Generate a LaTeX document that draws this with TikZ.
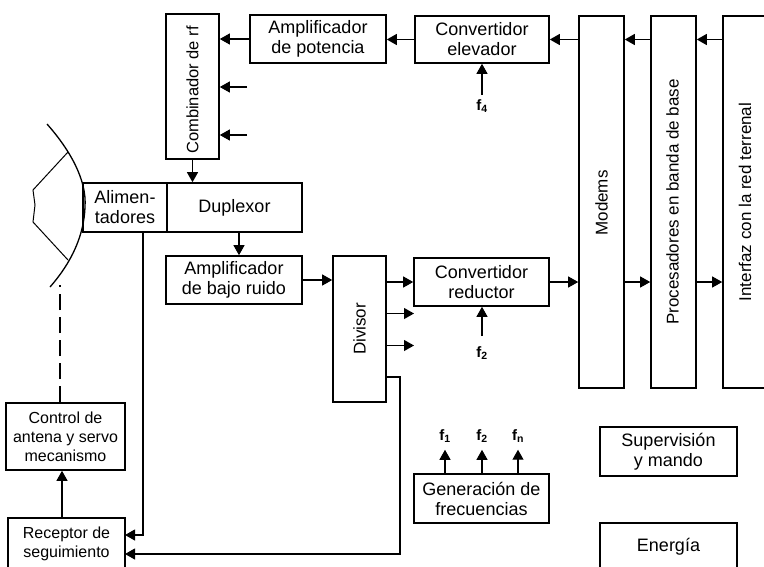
\documentclass[tikz,border=0pt]{standalone}
\usepackage{fontspec}
\setmainfont{Liberation Sans}
\usetikzlibrary{arrows.meta}
\tikzset{
 boxb/.style={draw,line width=1.6pt,inner sep=0pt,align=center,font=\fontsize{18}{20}\selectfont},
 smallb/.style={boxb,font=\fontsize{16}{19}\selectfont},
 txt/.style={inner sep=0pt,align=center,font=\fontsize{17}{20}\selectfont},
 vtxt/.style={txt,rotate=90},
 flab/.style={inner sep=0pt,font=\fontsize{15}{17}\selectfont\bfseries},
 link/.style={line width=1.1pt,-{Triangle[length=10pt,width=11pt]}},
 dashln/.style={line width=1.1pt,dash pattern=on 16pt off 7pt},
 dish/.style={line width=1.3pt}
}
\begin{document}
\begin{tikzpicture}[x=1pt,y=-1pt]
\clip (0,0) rectangle (764,566);
\fill[white] (0,0) rectangle (764,566);
% boxes
\node[boxb,minimum width=53pt,minimum height=145pt] (comb) at (192.5,86.5) {};
\node[vtxt,font=\fontsize{16.5}{20}\selectfont] (combt) at (192.5,90) {Combinador de rf};
\node[boxb,minimum width=136pt,minimum height=48pt] (apot) at (318,39) {Amplificador\\de potencia};
\node[boxb,minimum width=134pt,minimum height=47pt] (cele) at (482,39.5) {Convertidor\\elevador};
\node[boxb,minimum width=45pt,minimum height=372pt] (mod) at (601.5,202) {};
\node[vtxt] (modt) at (601.5,203) {Modems};
\node[boxb,minimum width=45pt,minimum height=372pt] (proc) at (673.5,202) {};
\node[vtxt] (proct) at (672.5,202) {Procesadores en banda de base};
\node[boxb,minimum width=42pt,minimum height=372pt] (intf) at (744,202) {};
\node[vtxt] (intft) at (745,202) {Interfaz con la red terrenal};
\node[boxb,minimum width=135pt,minimum height=49pt] (dup) at (234.5,207.5) {Duplexor};
\node[boxb,minimum width=84pt,minimum height=49pt] (alim) at (125,207.5) {Alimen-\\tadores};
\node[boxb,minimum width=136pt,minimum height=48pt] (lna) at (234,280) {Amplificador\\de bajo ruido};
\node[boxb,minimum width=53pt,minimum height=146pt] (div) at (359.5,329) {};
\node[vtxt] (divt) at (359.5,329) {Divisor};
\node[boxb,minimum width=135pt,minimum height=48pt] (cred) at (481.5,282) {Convertidor\\reductor};
\node[boxb,minimum width=135pt,minimum height=49pt] (gen) at (481.5,498.5) {Generación de\\frecuencias};
\node[boxb,minimum width=137pt,minimum height=49pt] (sup) at (668.5,451.5) {Supervisión\\y mando};
\node[boxb,minimum width=137pt,minimum height=48pt] (ene) at (668.5,547) {Energía};
\node[smallb,minimum width=119pt,minimum height=67pt] (ctrl) at (65.5,436.5) {Control de\\antena y servo\\mecanismo};
\node[smallb,minimum width=117pt,minimum height=52pt] (rec) at (66.5,544) {Receptor de\\seguimiento};
% antenna
\draw[dish] (47,124) .. controls (70,150) and (87,180) .. (85,207) .. controls (84,235) and (72,262) .. (50,287);
\draw[line width=1pt] (68,152) -- (33,190) -- (35,205) -- (33,222) -- (68,260);
% labels
\node[flab] (f4) at (482,106) {f\textsubscript{4}};
\node[flab] (f2a) at (482,353) {f\textsubscript{2}};
\node[flab] (f1) at (445,436) {f\textsubscript{1}};
\node[flab] (f2b) at (482,436) {f\textsubscript{2}};
\node[flab] (fn) at (518,436) {f\textsubscript{n}};
% free-end coordinates
\coordinate (s1) at (247,87);
\coordinate (s2) at (247,135);
\coordinate (d1) at (414,313.5);
\coordinate (d2) at (414,345.5);
\coordinate (antb) at (60,285);
% top chain
\draw[link] (cele.west) -- (cele.west -| apot.east);
\draw[link] (apot.west) -- (apot.west -| comb.east);
\draw[link] (s1) -- (s1 -| comb.east);
\draw[link] (s2) -- (s2 -| comb.east);
\draw[link] (mod.west |- cele.west) -- (cele.east);
\draw[link] (proc.west |- cele.west) -- (mod.east |- cele.west);
\draw[link] (intf.west |- cele.west) -- (proc.east |- cele.west);
\draw[link,shorten <=4pt] (f4.north) -- (f4.north |- cele.south);
\draw[link] (comb.south) -- (comb.south |- dup.north);
\draw[link] (dup.south -| 239,0) -- (lna.north -| 239,0);
\draw[link] (lna.east) -- (div.west |- lna.east);
\draw[link] (div.east |- cred.west) -- (cred.west);
\draw[link] (div.east |- d1) -- (d1);
\draw[link] (div.east |- d2) -- (d2);
\draw[link] (cred.east) -- (cred.east -| mod.west);
\draw[link] (mod.east |- cred.east) -- (proc.west |- cred.east);
\draw[link] (proc.east |- cred.east) -- (intf.west |- cred.east);
\draw[link,shorten <=10pt] (f2a.north) -- (f2a.north |- cred.south);
\draw[link,shorten >=7pt] (gen.north -| f1) -- (f1.south);
\draw[link,shorten >=7pt] (gen.north -| f2b) -- (f2b.south);
\draw[link,shorten >=7pt] (gen.north -| fn) -- (fn.south);
\draw[link] (rec.north -| 62,0) -- (ctrl.south -| 62,0);
\draw[dashln] (ctrl.north -| antb) -- (antb);
\draw[link] (143,232) -- (143,535) -- (125,535);
\draw[link] (385,377) -- (400,377) -- (400,554) -- (125,554);
\end{tikzpicture}
\end{document}
